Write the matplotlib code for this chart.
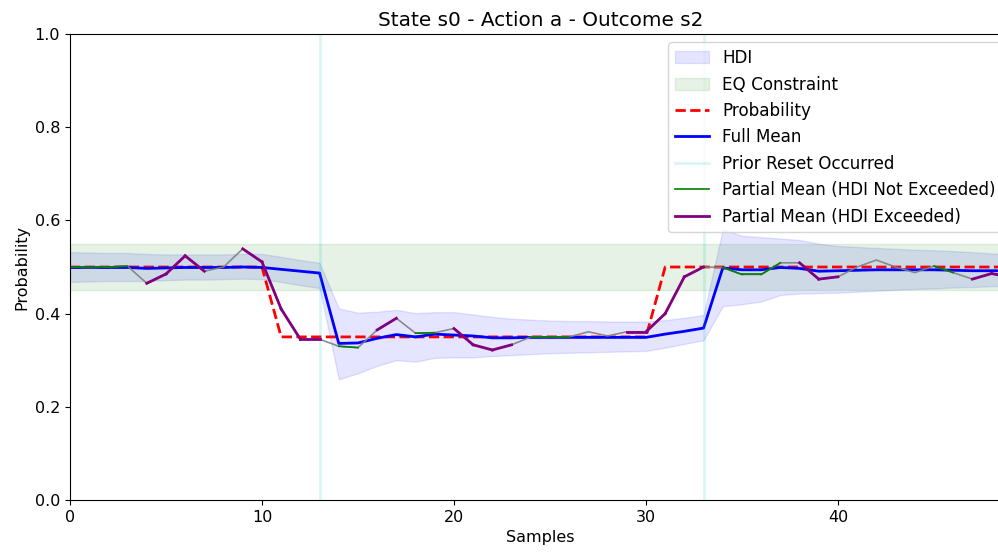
import numpy as np
import matplotlib
matplotlib.use("Agg")
import matplotlib.pyplot as plt

samples = np.arange(50)

probability = [0.5] * 11 + [0.35] * 20 + [0.5] * 19

full_mean = [0.499, 0.499, 0.499, 0.499, 0.497, 0.498, 0.499, 0.499, 0.499, 0.5,
             0.499, 0.495, 0.491, 0.487, 0.336, 0.337, 0.347, 0.355, 0.350, 0.356,
             0.354, 0.352, 0.348, 0.348, 0.349, 0.349, 0.349, 0.349, 0.349, 0.349,
             0.349, 0.356, 0.362, 0.369, 0.498, 0.494, 0.494, 0.499, 0.497, 0.491,
             0.492, 0.493, 0.494, 0.494, 0.494, 0.494, 0.493, 0.492, 0.492, 0.492]

hdi_upper = [0.532, 0.531, 0.530, 0.530, 0.528, 0.527, 0.527, 0.527, 0.527, 0.528,
             0.528, 0.522, 0.515, 0.509, 0.411, 0.402, 0.404, 0.408, 0.401, 0.403,
             0.403, 0.398, 0.393, 0.389, 0.387, 0.385, 0.384, 0.384, 0.383, 0.383,
             0.383, 0.386, 0.391, 0.397, 0.581, 0.567, 0.564, 0.561, 0.558, 0.550,
             0.545, 0.543, 0.541, 0.539, 0.537, 0.536, 0.534, 0.532, 0.529, 0.528]

hdi_lower = [0.468, 0.469, 0.470, 0.470, 0.470, 0.472, 0.473, 0.473, 0.474, 0.475,
             0.474, 0.468, 0.461, 0.455, 0.259, 0.272, 0.288, 0.300, 0.297, 0.305,
             0.306, 0.306, 0.309, 0.311, 0.313, 0.315, 0.316, 0.317, 0.318, 0.319,
             0.320, 0.327, 0.335, 0.343, 0.416, 0.420, 0.426, 0.440, 0.443, 0.444,
             0.445, 0.447, 0.449, 0.451, 0.453, 0.454, 0.456, 0.457, 0.459, 0.459]

partial_mean = [0.5, 0.499, 0.5, 0.502, 0.465, 0.485, 0.524, 0.491, 0.5, 0.539,
                0.511, 0.41, 0.345, 0.345, 0.33, 0.327, 0.365, 0.39, 0.358, 0.359,
                0.368, 0.333, 0.322, 0.333, 0.35, 0.35, 0.35, 0.361, 0.352, 0.361,
                0.361, 0.40, 0.479, 0.5, 0.499, 0.484, 0.484, 0.509, 0.509, 0.474,
                0.479, 0.5, 0.515, 0.5, 0.488, 0.502, 0.488, 0.474, 0.486, 0.478]

# 1 = HDI exceeded, 0 = not exceeded
exceeded = [0, 0, 0, 0, 1, 1, 1, 1, 0, 1,
            1, 1, 1, 1, 0, 0, 1, 1, 0, 0,
            1, 1, 1, 1, 0, 0, 0, 1, 0, 1,
            1, 1, 1, 1, 0, 0, 0, 0, 1, 1,
            1, 0, 1, 0, 1, 0, 0, 1, 1, 1]

resets = [13, 33]
eq_low, eq_high = 0.45, 0.55

fig = plt.figure(figsize=(9.98, 5.55), dpi=100)
ax = fig.add_axes([0.0701, 0.0991, 0.9427, 0.8396])

ax.fill_between(samples, hdi_lower, hdi_upper, color="blue", alpha=0.1, label="HDI")
ax.fill_between(samples, eq_low, eq_high, color="green", alpha=0.1, label="EQ Constraint")
ax.plot(samples, probability, "r--", lw=2, label="Probability")
ax.plot(samples, full_mean, color="blue", lw=2, label="Full Mean")
for i, r in enumerate(resets):
    ax.axvline(r, color="c", alpha=0.15, lw=2, label="Prior Reset Occurred" if i == 0 else None)

# partial mean: grey everywhere, coloured where neighbouring points share a status
ax.plot(samples, partial_mean, color="gray", lw=1.2, alpha=0.9)
seen = {0: False, 1: False}
for i in range(len(samples) - 1):
    if exceeded[i] == exceeded[i + 1]:
        st = exceeded[i]
        col = "purple" if st else "green"
        lw = 2 if st else 1.2
        lab = None
        if not seen[st]:
            lab = "Partial Mean (HDI Exceeded)" if st else "Partial Mean (HDI Not Exceeded)"
            seen[st] = True
        ax.plot(samples[i:i + 2], partial_mean[i:i + 2], color=col, lw=lw, label=lab)

ax.set_xlim(0, 49)
ax.set_ylim(0, 1)
ax.tick_params(labelsize=11.5)
ax.set_xlabel("Samples", fontsize=11.5)
ax.set_ylabel("Probability", fontsize=11.5)
ax.set_title("State s0 - Action a - Outcome s2", fontsize=14.4)

handles, labels = ax.get_legend_handles_labels()
order = ["HDI", "EQ Constraint", "Probability", "Full Mean", "Prior Reset Occurred",
         "Partial Mean (HDI Not Exceeded)", "Partial Mean (HDI Exceeded)"]
hmap = dict(zip(labels, handles))
ax.legend([hmap[k] for k in order], order, loc="upper right", fontsize=12.1)

fig.savefig("out.png", dpi=100)
